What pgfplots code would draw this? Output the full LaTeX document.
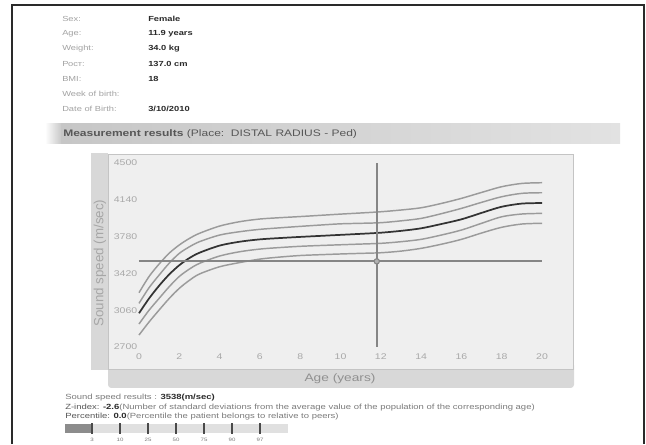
\documentclass[border=0pt]{standalone}
\usepackage{fontspec}
\setmainfont{Liberation Sans}[FakeStretch=1.27]
\newfontfamily\plainsans{Liberation Sans}
\usepackage{pgfplots}
\usepackage{pgfplotstable}
\pgfplotsset{compat=1.18}
\definecolor{framecol}{HTML}{2A2A2A}
\definecolor{labgray}{HTML}{A2A2A2}
\definecolor{valcol}{HTML}{2A2A2A}
\definecolor{headtext}{HTML}{575757}
\definecolor{barleft}{HTML}{C6C6C6}
\definecolor{barright}{HTML}{E2E2E2}
\definecolor{stripcol}{HTML}{D8D8D8}
\definecolor{panelfill}{HTML}{EFEFEF}
\definecolor{panelborder}{HTML}{C4C4C4}
\definecolor{ticklab}{HTML}{A8A8A8}
\definecolor{labelcol}{HTML}{909090}
\definecolor{curvecol}{HTML}{9B9B9B}
\definecolor{medcol}{HTML}{333333}
\definecolor{crosscol}{HTML}{858585}
\definecolor{bottext}{HTML}{7A7A7A}
\definecolor{barlight}{HTML}{E0E0E0}
\definecolor{bardark}{HTML}{8C8C8C}

\pgfplotstableread{
x b2 b1 m a1 a2
0 2817 2925 3030 3127 3231
0.5 2945 3060 3175 3280 3390
1 3062 3176 3300 3404 3512
1.5 3175 3290 3410 3520 3618
2 3274 3390 3500 3616 3698
2.5 3352 3462 3570 3680 3762
3 3414 3518 3622 3730 3812
4 3485 3590 3692 3795 3883
5 3526 3632 3730 3828 3926
6 3560 3658 3753 3851 3952
7 3580 3673 3766 3866 3965
8 3595 3685 3777 3880 3976
9 3603 3693 3787 3893 3988
10 3610 3700 3797 3905 4000
11 3616 3707 3807 3910 4011
12 3622 3714 3818 3916 4023
13 3638 3730 3836 3934 4040
14 3665 3753 3861 3958 4062
15 3705 3795 3903 4004 4104
16 3753 3844 3949 4056 4154
17 3815 3910 4012 4115 4212
18 3871 3974 4072 4170 4268
19 3903 4001 4103 4203 4300
20 3910 4007 4108 4209 4307
}\curves

\begin{document}
\begin{tikzpicture}
\begin{scope}[x=0.75pt,y=-0.75pt]
\fill[white] (0,0) rectangle (646,444);
% outer frame
\draw[framecol, line width=0.9pt] (12,444) -- (12,5) -- (644,5) -- (644,444);
% patient info
\begin{scope}[every node/.style={anchor=west, inner sep=0pt, font=\fontsize{5.5}{6.5}\selectfont}]
\node[text=labgray] at (62,19) {Sex:};
\node[text=labgray] at (62,34) {Age:};
\node[text=labgray] at (62,49) {Weight:};
\node[text=labgray] at (62,64) {Рост:};
\node[text=labgray] at (62,79) {BMI:};
\node[text=labgray] at (62,94) {Week of birth:};
\node[text=labgray] at (62,109) {Date of Birth:};
\node[text=valcol] at (148,19) {\textbf{Female}};
\node[text=valcol] at (148,34) {\textbf{11.9 years}};
\node[text=valcol] at (148,49) {\textbf{34.0 kg}};
\node[text=valcol] at (148,64) {\textbf{137.0 cm}};
\node[text=valcol] at (148,79) {\textbf{18}};
\node[text=valcol] at (148,109) {\textbf{3/10/2010}};
\end{scope}
% header bar
\shade[left color=white, right color=barleft] (45,124) rectangle (62,144);
\shade[left color=barleft, right color=barright] (61.5,124) rectangle (620,144);
\node[anchor=west, inner sep=0pt, text=headtext, font=\fontsize{7.1}{9}\selectfont] at (63,134) {\textbf{Measurement results} (Place:\ \ DISTAL RADIUS - Ped)};
% strips
\fill[stripcol] (91,153) rectangle (108,370);
\fill[stripcol, rounded corners=2.5pt] (108,362) rectangle (574,388);
\node[rotate=90, text=labelcol!80, inner sep=0pt, font=\plainsans\fontsize{10}{12}\selectfont] at (100,263) {Sound speed (m/sec)};
\node[text=labelcol, inner sep=0pt, font=\fontsize{8.1}{10}\selectfont] at (340,379) {Age (years)};
% bottom texts
\begin{scope}[every node/.style={anchor=west, inner sep=0pt, font=\fontsize{5.6}{6.5}\selectfont}]
\node[text=bottext] at (65,398) {Sound speed results : \textcolor{valcol}{\textbf{3538(m/sec)}}};
\node[text=bottext] at (65,407.5) {\textcolor{headtext}{Z-index:} \textcolor{valcol}{\textbf{-2.6}}(Number of standard deviations from the average value of the population of the corresponding age)};
\node[text=bottext] at (65,416.5) {\textcolor{headtext}{Percentile:} \textcolor{valcol}{\textbf{0.0}}(Percentile the patient belongs to relative to peers)};
\end{scope}
% percentile bar
\fill[barlight] (65,424) rectangle (288,433);
\fill[bardark] (65,424) rectangle (92,433);
\foreach \px/\lab in {92/3,120/10,148/25,176/50,204/75,232/90,260/97}{
  \draw[valcol!85, line width=1.3pt] (\px,423) -- (\px,434);
  \node[text=bottext, inner sep=0pt, font=\fontsize{3.6}{4}\selectfont] at (\px,440) {\lab};
}
\end{scope}

\begin{axis}[
  at={(81pt,-277.5pt)}, anchor=south west,
  scale only axis, width=348.75pt, height=162pt,
  xmin=-1.538, xmax=21.538, ymin=2475, ymax=4588,
  xtick={0,2,...,20},
  ytick={2700,3060,3420,3780,4140,4500},
  major tick length=0pt,
  axis background/.style={fill=panelfill},
  axis line style={draw=panelborder, line width=0.75pt},
  tick label style={font=\fontsize{6.2}{7}\selectfont, text=ticklab},
  /pgf/number format/assume math mode=true,
  /pgf/number format/1000 sep={},
  xticklabel style={anchor=center, yshift=9.75pt},
  yticklabel style={anchor=west, xshift=0.9pt},
  clip=false,
]
\addplot[curvecol, line width=1.1pt, smooth] table[x=x, y=b2] {\curves};
\addplot[curvecol, line width=1.1pt, smooth] table[x=x, y=b1] {\curves};
\addplot[curvecol, line width=1.1pt, smooth] table[x=x, y=a1] {\curves};
\addplot[curvecol, line width=1.1pt, smooth] table[x=x, y=a2] {\curves};
\addplot[medcol, line width=1.3pt, smooth] table[x=x, y=m] {\curves};
\addplot[crosscol, line width=1.5pt] coordinates {(0,3538) (20,3538)};
\addplot[crosscol, line width=1.5pt] coordinates {(11.8,2700) (11.8,4500)};
\addplot[only marks, mark=*, mark size=2pt, mark options={fill=black!30, draw=crosscol, line width=0.8pt}] coordinates {(11.8,3538)};
\end{axis}
\end{tikzpicture}
\end{document}
